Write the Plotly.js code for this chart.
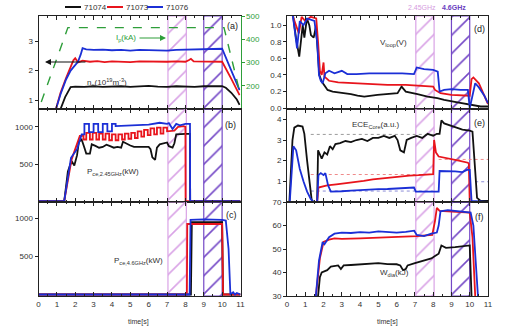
<!DOCTYPE html>
<html><head><meta charset="utf-8">
<script src="https://cdn.plot.ly/plotly-3.0.1.min.js"></script>
<style>html,body{margin:0;padding:0;background:#fff}#chart{width:510px;height:334px}</style>
</head><body><div id="chart"></div>
<script>
// ---------------- data ----------------
const seriesNames = ['71074', '71073', '71076'];
const seriesColors = ['#111111', '#e8141c', '#1b2fd6'];
const hatch245 = [7.05, 8.05];   // 2.45GHz ECRH window [s]
const hatch46 = [9.0, 10.0];     // 4.6GHz LHCD window [s]

// (a) line averaged density n_e (1e19 m^-3)
const neT_71074 = [1.2, 1.45, 1.75, 2.0, 2.5, 3.0, 3.5, 4.0, 4.5, 5.0, 5.5, 6.0, 6.5, 7.0, 7.5, 8.0, 8.5, 9.0, 9.5, 10.0, 10.2, 10.5, 10.8, 10.95];
const ne_71074  = [0.7, 1.1, 1.44, 1.46, 1.45, 1.47, 1.45, 1.46, 1.47, 1.45, 1.46, 1.48, 1.46, 1.45, 1.47, 1.46, 1.45, 1.47, 1.46, 1.47, 1.42, 1.25, 1.02, 0.84];
const neT_71073 = [0.95, 1.2, 1.5, 1.75, 1.9, 2.0, 2.15, 2.4, 2.8, 3.2, 3.6, 4.0, 4.5, 5.0, 5.5, 6.0, 6.5, 7.0, 7.5, 8.0, 8.2, 8.3, 8.45, 9.0, 9.5, 10.0, 10.5, 10.95];
const ne_71073  = [0.7, 1.25, 1.75, 2.1, 2.35, 2.42, 2.28, 2.34, 2.3, 2.32, 2.29, 2.31, 2.3, 2.29, 2.31, 2.3, 2.29, 2.3, 2.31, 2.3, 2.36, 2.4, 2.31, 2.3, 2.31, 2.3, 1.72, 1.17];
const neT_71076 = [0.95, 1.2, 1.5, 1.75, 1.95, 2.15, 2.3, 2.4, 2.6, 3.0, 3.5, 4.0, 4.5, 5.0, 5.5, 6.0, 6.5, 7.0, 7.5, 8.0, 8.5, 9.0, 9.5, 10.0, 10.5, 10.95];
const ne_71076  = [0.7, 1.2, 1.7, 2.0, 2.15, 2.3, 2.55, 2.76, 2.72, 2.7, 2.71, 2.69, 2.7, 2.68, 2.7, 2.69, 2.7, 2.68, 2.7, 2.71, 2.72, 2.71, 2.73, 2.74, 2.0, 1.34];
// (a) plasma current I_p (kA)
const ipT = [0.15, 1.6, 10.1, 10.9];
const ip  = [130, 450, 450, 192];

// (b) P_ce,2.45GHz (kW)
const p245T_71074 = [0, 1.4, 1.6, 1.8, 1.95, 2.1, 2.2, 2.35, 2.5, 2.6, 2.8, 2.9, 3.1, 3.3, 3.5, 3.7, 3.9, 4.1, 4.3, 4.5, 4.6, 4.8, 5.0, 5.2, 5.5, 5.8, 6.0, 6.1, 6.2, 6.35, 6.45, 6.6, 6.9, 7.0, 7.1, 7.3, 7.4, 7.5, 8.0, 8.25, 8.26, 11];
const p245_71074  = [0, 0, 400, 540, 480, 620, 800, 830, 720, 640, 640, 765, 745, 720, 730, 760, 740, 720, 730, 720, 800, 770, 750, 730, 730, 740, 730, 700, 590, 555, 720, 765, 780, 790, 740, 720, 780, 900, 905, 905, 0, 0];
const p245T_71073 = [0, 1.4, 1.8, 2.05, 2.25, 2.45, 2.45, 2.6, 2.6, 2.8, 2.8, 2.95, 2.95, 3.15, 3.15, 3.3, 3.3, 3.5, 3.5, 3.65, 3.65, 3.85, 3.85, 4.0, 4.0, 4.2, 4.2, 4.35, 4.35, 4.55, 4.55, 4.7, 4.7, 4.9, 4.9, 5.05, 5.05, 5.25, 5.25, 5.4, 5.4, 5.6, 5.6, 5.75, 5.75, 5.95, 5.95, 6.1, 6.1, 6.3, 6.3, 6.45, 6.45, 6.65, 6.65, 6.8, 6.8, 7.0, 7.0, 7.4, 7.6, 7.9, 8.0, 8.01, 11];
const p245_71073  = [0, 0, 560, 750, 880, 880, 830, 830, 920, 920, 830, 830, 920, 920, 830, 830, 910, 910, 830, 830, 910, 910, 820, 820, 900, 900, 820, 820, 900, 900, 830, 830, 910, 910, 840, 840, 920, 920, 850, 850, 940, 940, 870, 870, 960, 960, 890, 890, 980, 980, 900, 900, 990, 990, 910, 910, 990, 990, 940, 950, 1000, 1010, 1000, 0, 0];
const p245T_71076 = [0, 1.4, 1.77, 2.1, 2.35, 2.5, 2.5, 2.75, 2.75, 3.0, 3.0, 3.25, 3.25, 3.5, 3.5, 3.75, 3.75, 4.0, 4.0, 4.2, 4.2, 5.0, 6.0, 6.6, 7.0, 7.1, 7.3, 7.5, 7.7, 8.0, 8.25, 8.26, 11];
const p245_71076  = [0, 0, 585, 700, 900, 900, 1040, 1040, 930, 930, 1040, 1040, 930, 930, 1040, 1040, 940, 940, 1040, 1040, 1010, 1020, 1030, 1055, 1040, 1050, 970, 1040, 1020, 1040, 1040, 0, 0];

// (c) P_ce,4.6GHz (kW)
const p46T_71074 = [0, 8.3, 8.35, 10.0, 10.05, 11];
const p46_71074  = [0, 0, 955, 955, 0, 0];
const p46T_71073 = [0, 8.08, 8.1, 10.0, 10.05, 11];
const p46_71073  = [0, 0, 930, 930, 0, 0];
const p46T_71076 = [0, 8.23, 8.28, 9.0, 10.0, 10.2, 10.35, 10.45, 10.6, 10.7, 10.8, 11];
const p46_71076  = [0, 0, 985, 992, 985, 975, 600, 0, 30, 0, 20, 0];

// (d) loop voltage V_loop (V)
const vT_71074 = [0.31, 0.49, 0.67, 0.77, 0.86, 0.95, 1.09, 1.22, 1.31, 1.46, 1.58, 1.68, 1.77, 1.9, 2.04, 2.22, 2.5, 2.95, 3.5, 3.86, 4.23, 4.95, 5.5, 6.05, 6.27, 6.5, 7.14, 7.69, 8.23, 8.6, 9.33, 9.87, 10.15, 10.6, 11.0];
const v_71074  = [1.15, 0.85, 0.62, 0.85, 1.0, 0.85, 1.08, 1.0, 0.88, 0.85, 0.98, 0.7, 0.4, 0.32, 0.28, 0.22, 0.2, 0.19, 0.17, 0.15, 0.14, 0.16, 0.17, 0.18, 0.26, 0.2, 0.17, 0.14, 0.12, 0.1, 0.07, 0.05, 0.04, 0.02, 0.02];
const vT_71073 = [0.25, 0.5, 0.65, 0.8, 1.0, 1.3, 1.6, 1.7, 1.8, 1.9, 2.0, 2.05, 2.3, 2.8, 3.5, 4.5, 5.5, 6.5, 7.3, 8.0, 8.1, 8.4, 9.0, 9.9, 10.0, 10.1, 10.2, 10.5, 10.8, 11.0];
const v_71073  = [1.15, 1.0, 0.9, 1.1, 1.05, 1.1, 1.08, 0.8, 0.45, 0.4, 0.55, 0.38, 0.33, 0.31, 0.3, 0.29, 0.28, 0.28, 0.27, 0.26, 0.22, 0.18, 0.16, 0.15, 0.15, 0.35, 0.37, 0.3, 0.15, 0.05];
const vT_71076 = [0.3, 0.55, 0.7, 0.9, 1.1, 1.5, 1.65, 1.75, 1.85, 1.95, 2.1, 2.3, 2.6, 3.0, 3.3, 3.8, 4.5, 5.5, 6.3, 6.95, 7.1, 7.5, 8.0, 8.25, 8.35, 8.6, 9.0, 9.5, 9.9, 10.0, 10.1, 10.3, 10.5, 10.8, 11.0];
const v_71076  = [1.15, 0.72, 1.05, 1.0, 1.08, 1.05, 0.8, 0.4, 0.33, 0.3, 0.42, 0.45, 0.42, 0.45, 0.41, 0.41, 0.42, 0.42, 0.42, 0.41, 0.49, 0.47, 0.46, 0.44, 0.2, 0.22, 0.23, 0.22, 0.22, 0.0, 0.1, 0.3, 0.25, 0.15, 0.06];

// (e) core ECE (a.u.)
const eT_71074 = [0.13, 0.3, 0.4, 0.6, 0.85, 0.95, 1.1, 1.25, 1.35, 1.45, 1.65, 1.7, 1.8, 1.9, 2.05, 2.2, 2.35, 2.5, 2.65, 2.9, 3.2, 3.5, 3.8, 4.1, 4.4, 4.7, 5.0, 5.3, 5.6, 5.9, 6.05, 6.2, 6.4, 6.55, 6.8, 7.1, 7.4, 7.7, 8.0, 8.2, 8.35, 8.45, 8.6, 8.9, 9.2, 9.6, 10.0, 10.15, 10.3, 10.4, 10.6, 11.0];
const e_71074  = [0, 3.0, 3.6, 3.7, 3.65, 3.3, 2.0, 0.8, 0.1, 0, 0, 2.5, 2.3, 2.1, 2.4, 2.3, 2.7, 2.55, 2.8, 2.85, 2.95, 2.9, 3.0, 3.05, 2.95, 3.1, 3.1, 3.2, 3.1, 3.2, 3.0, 2.5, 2.4, 3.0, 3.1, 3.2, 3.1, 3.3, 3.2, 3.3, 3.3, 3.95, 3.8, 3.7, 3.6, 3.5, 3.45, 3.4, 1.5, 0.2, 0.05, 0.05];
const eT_71073 = [0, 1.65, 1.72, 1.9, 2.2, 2.7, 3.2, 3.7, 4.2, 4.7, 5.2, 5.7, 6.2, 6.7, 7.2, 7.7, 8.0, 8.05, 8.15, 8.3, 8.6, 9.0, 9.4, 9.9, 9.95, 10.0, 11.0];
const e_71073  = [0, 0, 0.7, 0.75, 0.8, 0.85, 0.9, 0.98, 1.02, 1.1, 1.15, 1.2, 1.25, 1.28, 1.3, 1.35, 1.35, 3.0, 2.4, 2.2, 2.15, 2.1, 2.0, 1.9, 1.85, 0, 0];
const eT_71076 = [0.15, 0.35, 0.5, 0.7, 0.9, 1.1, 1.3, 1.45, 1.65, 1.72, 1.85, 2.0, 2.1, 2.25, 2.4, 2.7, 3.0, 3.5, 4.0, 4.5, 5.0, 5.5, 6.0, 6.5, 6.95, 7.05, 7.5, 8.0, 8.3, 8.35, 8.7, 9.2, 9.6, 9.85, 10.0, 10.1, 11.0];
const e_71076  = [0, 2.7, 2.5, 1.6, 1.0, 0.5, 0.15, 0, 0, 1.3, 1.4, 1.3, 1.4, 0.8, 0.5, 0.5, 0.52, 0.55, 0.58, 0.6, 0.62, 0.63, 0.65, 0.66, 0.7, 0.5, 0.5, 0.5, 0.5, 1.5, 1.5, 1.48, 1.45, 1.55, 1.55, 0.05, 0];
// (e) dotted reference levels
const eceRefLevel = [3.27, 1.33, 0.53, 2.06, 0.98];
const eceRefStart = [1.3, 1.3, 1.3, 8.3, 10.3];
const eceRefEnd   = [8.2, 8.0, 8.0, 11.0, 11.0];
const eceRefColor = ['#9a9a9a', '#ef8a8a', '#8c8cd8', '#ef8a8a', '#8c8cd8'];

// (f) diamagnetic energy W_dia (kJ)
const wT_71074 = [1.7, 1.8, 1.9, 2.2, 2.4, 2.8, 2.95, 3.1, 3.5, 4.0, 4.5, 5.0, 5.5, 6.0, 6.2, 6.35, 6.5, 6.6, 7.0, 7.5, 7.9, 8.1, 8.3, 8.45, 8.7, 9.2, 9.6, 10.0, 10.1];
const w_71074  = [30, 38, 40, 41, 42.5, 43, 41.5, 43, 43.2, 43.5, 43.7, 44, 43.6, 43.5, 43, 41, 41.5, 43, 44, 45, 46, 47, 48, 51.5, 50.5, 50.8, 51, 51.5, 30];
const wT_71073 = [1.58, 1.8, 2.0, 2.3, 2.6, 3.0, 4.0, 5.0, 6.0, 6.5, 7.1, 7.6, 7.95, 8.1, 8.2, 8.35, 8.8, 9.3, 9.8, 10.0, 10.15, 10.3];
const w_71073  = [30, 46, 53, 54, 54.5, 54.3, 54.5, 54.8, 55, 55.3, 55.5, 55.8, 56, 62, 67.5, 66.2, 66, 66, 65.8, 65.5, 55, 30];
const wT_71076 = [1.58, 1.75, 1.95, 2.05, 2.3, 2.6, 3.0, 3.5, 4.0, 4.5, 5.0, 5.5, 6.0, 6.5, 6.96, 7.1, 7.5, 7.9, 8.2, 8.3, 8.4, 8.8, 9.3, 9.8, 10.05, 10.2, 10.35, 10.45];
const w_71076  = [30, 45, 53, 52, 55, 56.5, 57, 56.8, 57.2, 57, 57.5, 57.2, 57, 57.3, 57.8, 56, 55.5, 56.5, 57, 60, 66, 66.5, 66.2, 65.8, 65.5, 60, 40, 30];

// ---------------- layout helpers ----------------
const W = 510, H = 334;
const fx = p => p / W, fy = p => 1 - p / H;
const FONT = 'Liberation Sans, Arial, sans-serif';
const colL = [fx(38.5), fx(240.5)], colR = [fx(287), fx(488)];
const rows = [[fy(109), fy(16)], [fy(202), fy(109)], [fy(296), fy(202)]];
const ranges = {y: [0.7, 3.85], y2: [-10, 1240], y3: [-20, 1220], y4: [-0.01, 1.11], y5: [0, 4.5], y6: [30, 70]};
const ink = '#222';

function xax(dom, anchor, labels) {
  return {domain: dom, anchor: anchor, range: [0, 11], tick0: 0, dtick: 1, ticks: 'inside', ticklen: 4,
    tickcolor: ink, showline: true, linecolor: ink, linewidth: 1, mirror: 'ticks', showgrid: false,
    zeroline: false, showticklabels: labels, tickfont: {family: FONT, size: 8, color: '#333'},
    minor: {dtick: 0.5, ticks: 'inside', ticklen: 2, tickcolor: ink}};
}
function yax(dom, anchor, range, tickvals, ticktext) {
  return {domain: dom, anchor: anchor, range: range, tickvals: tickvals, ticktext: ticktext,
    ticks: 'outside', ticklen: 3, tickcolor: ink, showline: true, linecolor: ink, linewidth: 1, mirror: true,
    showgrid: false, zeroline: false, tickfont: {family: FONT, size: 8, color: '#333'}};
}

const traces = [];
function hatch(xa, ya, win, color) {
  const r = ranges[ya];
  traces.push({x: [win[0], win[1], win[1], win[0], win[0]], y: [r[0], r[0], r[1], r[1], r[0]],
    xaxis: xa, yaxis: ya, mode: 'lines', fill: 'toself', fillcolor: 'rgba(0,0,0,0)',
    fillpattern: {shape: '/', fgcolor: color, bgcolor: 'rgba(255,255,255,0)', size: 13, solidity: 0.12},
    line: {color: color, width: 1.2}, hoverinfo: 'skip', showlegend: false});
}
const panels = [['x', 'y'], ['x2', 'y2'], ['x3', 'y3'], ['x4', 'y4'], ['x5', 'y5'], ['x6', 'y6']];
panels.forEach(p => { hatch(p[0], p[1], hatch245, '#d9a3e6'); hatch(p[0], p[1], hatch46, '#7448c6'); });

eceRefLevel.forEach((lv, i) => traces.push({x: [eceRefStart[i], eceRefEnd[i]], y: [lv, lv], xaxis: 'x5', yaxis: 'y5',
  mode: 'lines', line: {color: eceRefColor[i], width: 1, dash: 'dot'}, hoverinfo: 'skip', showlegend: false}));

traces.push({x: ipT, y: ip, xaxis: 'x', yaxis: 'y7', mode: 'lines', line: {color: '#2e9e3a', width: 1.4, dash: 'dash'}, showlegend: false});

function series(xa, ya, ts, vs, w) {
  ts.forEach((t, i) => traces.push({x: t, y: vs[i], xaxis: xa, yaxis: ya, mode: 'lines', name: seriesNames[i],
    line: {color: seriesColors[i], width: w || 1.8}, showlegend: false}));
}
series('x', 'y', [neT_71074, neT_71073, neT_71076], [ne_71074, ne_71073, ne_71076]);
series('x2', 'y2', [p245T_71074, p245T_71073, p245T_71076], [p245_71074, p245_71073, p245_71076]);
series('x3', 'y3', [p46T_71074, p46T_71073, p46T_71076], [p46_71074, p46_71073, p46_71076]);
series('x4', 'y4', [vT_71074, vT_71073, vT_71076], [v_71074, v_71073, v_71076]);
series('x5', 'y5', [eT_71074, eT_71073, eT_71076], [e_71074, e_71073, e_71076]);
series('x6', 'y6', [wT_71074, wT_71073, wT_71076], [w_71074, w_71073, w_71076]);

const ann = [];
const shapes = [];
function txt(x, y, text, opts) {
  ann.push(Object.assign({xref: 'paper', yref: 'paper', x: fx(x), y: fy(y), text: text, showarrow: false,
    xanchor: 'left', yanchor: 'middle', font: {family: FONT, size: 8, color: '#333'}}, opts || {}));
}
const legX = [65, 107, 147];
seriesNames.forEach((n, i) => {
  shapes.push({type: 'line', xref: 'paper', yref: 'paper', x0: fx(legX[i]), x1: fx(legX[i] + 16), y0: fy(7), y1: fy(7),
    line: {color: seriesColors[i], width: 2}});
  txt(legX[i] + 17, 7, n, {font: {family: FONT, size: 8, color: '#333'}});
});
txt(422, 7, '2.45GHz', {xanchor: 'center', font: {family: FONT, size: 7, color: '#d59be0'}});
txt(454, 7, '<b>4.6GHz</b>', {xanchor: 'center', font: {family: FONT, size: 7, color: '#6a40c0'}});
[['(a)', 232, 26], ['(b)', 230, 125], ['(c)', 231, 215], ['(d)', 479, 29], ['(e)', 479, 123], ['(f)', 479, 217]]
  .forEach(a => txt(a[1], a[2], a[0], {xanchor: 'center', font: {family: FONT, size: 9, color: '#222'}}));
txt(85, 82, 'n<sub>e</sub>(10<sup>19</sup>m<sup>-3</sup>)');
txt(114, 38, 'I<sub>p</sub>(kA)', {font: {family: FONT, size: 8, color: '#2e9e3a'}});
txt(85, 172, 'P<sub>ce,2.45GHz</sub>(kW)');
txt(112, 261, 'P<sub>ce,4.6GHz</sub>(kW)');
txt(378, 43, 'V<sub>loop</sub>(V)');
txt(350, 125, 'ECE<sub>Core</sub>(a.u.)');
txt(378, 273, 'W<sub>dia</sub>(kJ)');
txt(138.5, 322, 'time[s]', {xanchor: 'center', font: {family: FONT, size: 7, color: '#333'}});
txt(387.5, 322, 'time[s]', {xanchor: 'center', font: {family: FONT, size: 7, color: '#333'}});
ann.push({xref: 'paper', yref: 'paper', x: fx(45), y: fy(62), ax: 42, ay: 0, text: '', showarrow: true,
  arrowhead: 2, arrowsize: 1, arrowwidth: 1.2, arrowcolor: '#111'});
ann.push({xref: 'paper', yref: 'paper', x: fx(166), y: fy(38), ax: -28, ay: 0, text: '', showarrow: true,
  arrowhead: 2, arrowsize: 1, arrowwidth: 1.2, arrowcolor: '#2e9e3a'});

const layout = {
  width: W, height: H, margin: {l: 0, r: 0, t: 0, b: 0}, paper_bgcolor: '#fff', plot_bgcolor: '#fff',
  showlegend: false, font: {family: FONT, size: 8, color: '#333'},
  xaxis: xax(colL, 'y', false), xaxis2: xax(colL, 'y2', false), xaxis3: xax(colL, 'y3', true),
  xaxis4: xax(colR, 'y4', false), xaxis5: xax(colR, 'y5', false), xaxis6: xax(colR, 'y6', true),
  yaxis: yax(rows[0], 'x', ranges.y, [1, 2, 3], ['1', '2', '3']),
  yaxis2: yax(rows[1], 'x2', ranges.y2, [500, 1000], ['500', '1000']),
  yaxis3: yax(rows[2], 'x3', ranges.y3, [500, 1000], ['500', '1000']),
  yaxis4: yax(rows[0], 'x4', ranges.y4, [0, 0.2, 0.4, 0.6, 0.8, 1.0], ['0.0', '0.2', '0.4', '0.6', '0.8', '1.0']),
  yaxis5: yax(rows[1], 'x5', ranges.y5, [1, 2, 3, 4], ['1', '2', '3', '4']),
  yaxis6: yax(rows[2], 'x6', ranges.y6, [30, 40, 50, 60, 70], ['30', '40', '50', '60', '70']),
  yaxis7: {overlaying: 'y', anchor: 'x', side: 'right', range: [100, 500], tickvals: [200, 300, 400, 500],
    ticks: 'outside', ticklen: 3, tickcolor: '#2e9e3a', showline: true, linecolor: '#2e9e3a', linewidth: 1,
    showgrid: false, zeroline: false, tickfont: {family: FONT, size: 8, color: '#2e9e3a'}},
  annotations: ann, shapes: shapes
};
Plotly.newPlot('chart', traces, layout, {staticPlot: true, displayModeBar: false});
</script></body></html>
